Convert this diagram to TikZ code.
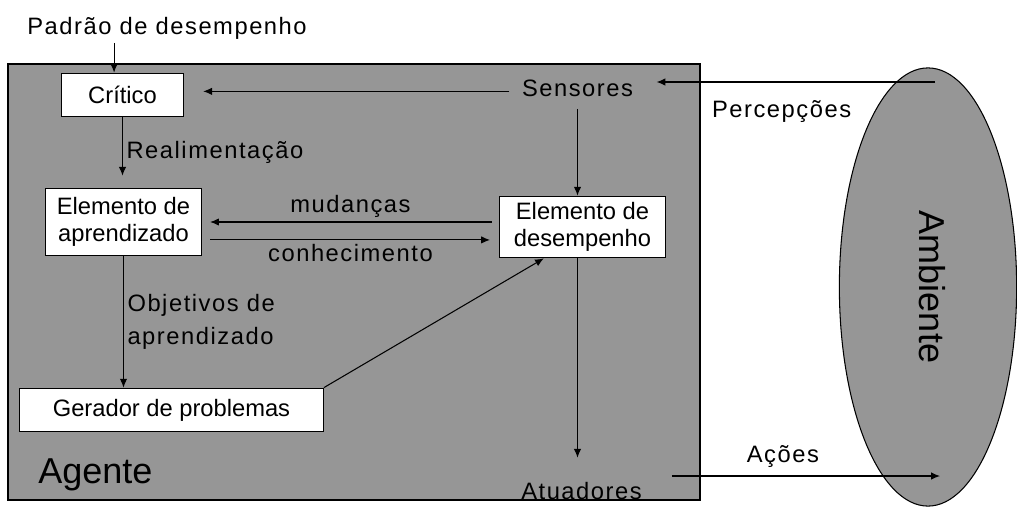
\documentclass[tikz,border=0pt]{standalone}
\usepackage{fontspec}
\setmainfont{Liberation Sans}
\newfontfamily\spacedfont{Liberation Sans}[LetterSpace=6.5]
\usetikzlibrary{arrows.meta,shapes.geometric}
\definecolor{agentgray}{RGB}{150,150,150}

\begin{document}
\begin{tikzpicture}[x=0.02cm,y=-0.02cm,
	box/.style={draw,fill=white,align=center,inner sep=0pt,line width=0.6pt,
		font=\fontsize{13.5}{15.5}\selectfont},
	lbl/.style={inner sep=2pt,align=left,font=\spacedfont\fontsize{13.5}{18.7}\selectfont},
	port/.style={lbl,inner sep=7pt},
	big/.style={font=\fontsize{20.5}{24}\selectfont}]
	\useasboundingbox (0,0) rectangle (1017,507);
	% ambiente e agente
	\node[ellipse,draw,fill=agentgray,line width=0.6pt,minimum width=249.4pt,
		minimum height=100.9pt,rotate=-90,text depth=5.6pt,big] (ambiente) at (928,287) {Ambiente};
	\draw[fill=agentgray,line width=0.6pt] (8,64) rectangle (700,500);
	%
	\node[lbl,anchor=base] (padrao) at (167,34) {Padrão de desempenho};
	\node[port,anchor=base] (sensores) at (577.5,96) {Sensores};
	\node[port,anchor=base] (atuadores) at (581.5,499) {Atuadores};
	\node[big,anchor=base west,inner sep=0pt] (agente) at (38,483) {Agente};
	\node[box,minimum width=69.7pt,minimum height=24.9pt] (critico) at (122.5,95) {Crítico};
	\node[box,minimum width=89pt,minimum height=38.5pt] (aprendizado) at (123.5,222) {Elemento de\\aprendizado};
	\node[box,minimum width=94.7pt,minimum height=35.1pt] (desempenho) at (582.5,227) {Elemento de\\desempenho};
	\node[box,minimum width=172.9pt,minimum height=24.9pt] (gerador) at (171.5,410) {Gerador de problemas};
	\coordinate (percep) at (935,82);
	\coordinate (acao) at (940,476);
	%
	\path[->,>={Latex[length=5pt,width=4.2pt]},line width=0.6pt]
	% vertical arrows
	([xshift=-4.8pt]critico.north |- padrao.south) edge ([xshift=-4.8pt]critico.north)
	(critico.south) edge[shorten >=6.8pt] node[lbl,right]{Realimentação} (critico.south |- aprendizado.north)
	(aprendizado.south) edge node[lbl,right]{Objetivos de\\aprendizado} (aprendizado.south |- gerador.north)
	(sensores.south) edge (sensores.south |- desempenho.north)
	(desempenho.south -| sensores.south) edge[shorten >=6.5pt] (atuadores.north -| sensores.south)
	% horizontal arrows
	([yshift=-2pt]sensores.west) edge[shorten >=10.8pt] ([yshift=-2pt]sensores.west -| critico.east)
	(desempenho.west |- aprendizado.east) edge[shorten <=4pt,shorten >=4.5pt] node[lbl,above]{mudanças} (aprendizado.east)
	([yshift=-10.2pt]aprendizado.east) edge[shorten <=4.5pt,shorten >=5pt] node[lbl,below]{conhecimento} ([yshift=-10.2pt]aprendizado.east -| desempenho.west)
	(gerador.north east) edge ([xshift=-22pt]desempenho.south)
	% percepcoes e acoes
	(percep) edge[shorten >=6.2pt] node[lbl,below=8pt,pos=0.53]{Percepções} (percep -| sensores.east)
	(atuadores.east |- acao) edge[shorten <=10pt] node[lbl,above=2.5pt,pos=0.45]{Ações} (acao);
\end{tikzpicture}
\end{document}
